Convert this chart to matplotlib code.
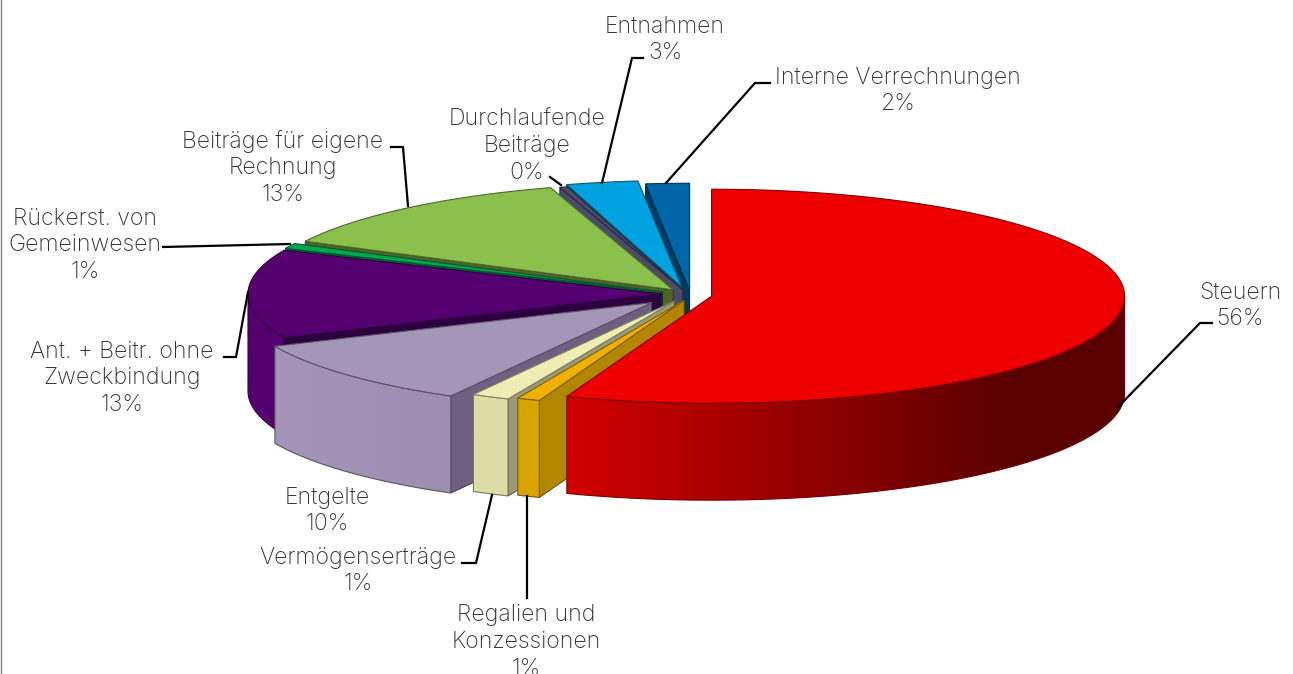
import numpy as np
from matplotlib import pyplot as plt
from matplotlib.colors import to_rgb
from matplotlib.patches import Polygon

# values in percent, clockwise starting at 12 o'clock
categories = ['Steuern', 'Regalien und\nKonzessionen', 'Vermögenserträge', 'Entgelte',
              'Ant. + Beitr. ohne\nZweckbindung', 'Rückerst. von\nGemeinwesen',
              'Beiträge für eigene\nRechnung', 'Durchlaufende\nBeiträge', 'Entnahmen',
              'Interne Verrechnungen']
values = [55.7, 0.9, 1.49, 10.21, 13.4, 0.8, 12.7, 0.3, 2.8, 1.7]

top_cols = ['#EE0000', '#F0B000', '#EEEEB4', '#A496B8', '#550070', '#00A650', '#8BC04C', '#4A4A6A', '#00A2E0', '#0066AA']
face_cols = ['#8A0000', '#B38600', '#9A9A78', '#6E6080', '#2C0040', '#006030', '#4F6228', '#4A4A6A', '#005F85', '#003A60']
wall_left = ['#D20000', '#D9A400', '#DDDDA6', '#A496B8', '#550070', '#00A650', '#8BC04C', '#4A4A6A', '#00A2E0', '#0066AA']
wall_right = ['#5A0000', '#D9A400', '#DDDDA6', '#9E8FB2', '#550070', '#00A650', '#8BC04C', '#4A4A6A', '#00A2E0', '#0066AA']

# label centre and leader line for each slice
label_pos = [(1240, 306), (526, 642), (358, 571), (327, 511), (122, 378), (85, 245), (283, 168), (527, 146), (665, 40), (898, 91)]
leaders = [[(1118, 407), (1200, 323), (1212, 323)],
           [(527, 496), (527, 598)],
           [(492, 495), (476, 563), (462, 563)],
           [],
           [(248, 292), (236, 357), (224, 357)],
           [(290, 244), (163, 247)],
           [(408, 206), (403, 147), (391, 147)],
           [(561, 185), (550, 177)],
           [(602, 183), (632, 58), (643, 58)],
           [(666, 183), (755, 83), (770, 83)]]

cx, cy = 686, 295
rx, ry = 413, 107
depth = 97
explode = 26
# perspective correction per slice, the pie is not a clean projection
nudge_x = [0, 8, 0, -15, 1, 0, 4, 4, 1, 5]
nudge_y = [0, -1, 0, 3, -1, 0, 0, 1, -1, 2]

fig = plt.figure(figsize=(12.93, 6.74), dpi=100)
ax = fig.add_axes([0, 0, 1, 1])
ax.set_xlim(0, 1293)
ax.set_ylim(674, 0)
ax.axis('off')
ax.plot([1, 1], [0, 674], color='#808080', lw=1.0)


def darker(col, f=0.55):
    return tuple(c * f for c in to_rgb(col))


def rim(ax_c, t):
    return np.c_[ax_c[0] + rx * np.sin(t), ax_c[1] - ry * np.cos(t)]


edges = np.cumsum([0] + values) / sum(values) * 2 * np.pi
z = 2
for i in reversed(range(len(values))):
    t0, t1 = edges[i], edges[i + 1]
    mid = (t0 + t1) / 2
    apex = (cx + explode * np.sin(mid) + nudge_x[i], cy - explode * ry / rx * np.cos(mid) + nudge_y[i])
    edge = darker(top_cols[i])

    # cut faces, only the ones turned to the viewer
    for t, front in ((t0, np.sin(t0) < 0), (t1, np.sin(t1) > 1e-6)):
        if not front:
            continue
        p = rim(apex, np.array([t]))[0]
        quad = [apex, p, (p[0], p[1] + depth), (apex[0], apex[1] + depth)]
        ax.add_patch(Polygon(quad, fc=face_cols[i], ec=darker(face_cols[i]), lw=0.7, zorder=z))
        z += 1

    # outer wall, only the front half is visible
    a, b = max(t0, np.pi / 2), min(t1, 3 * np.pi / 2)
    if b > a:
        arc = rim(apex, np.linspace(a, b, 120))
        wall = np.vstack([arc, arc[::-1] + [0, depth]])
        poly = Polygon(wall, fc='none', ec=darker(wall_left[i]), lw=0.8, zorder=z + 1)
        ax.add_patch(poly)
        x0, x1 = wall[:, 0].min(), wall[:, 0].max()
        frac = np.clip(np.linspace(0, 1, 256) * 1.25, 0, 1)[:, None]
        grad = (1 - frac) * np.array(to_rgb(wall_left[i])) + frac * np.array(to_rgb(wall_right[i]))
        im = ax.imshow(grad[None, :, :], extent=(x0, x1, wall[:, 1].max(), wall[:, 1].min()),
                       aspect='auto', zorder=z, interpolation='bilinear')
        im.set_clip_path(Polygon(wall, transform=ax.transData))
        z += 2

    # top of the slice
    arc = rim(apex, np.linspace(t0, t1, 200))
    ax.add_patch(Polygon(np.vstack([[apex], arc]), fc=top_cols[i], ec=edge, lw=0.8, zorder=z))
    z += 1

ax.set_xlim(0, 1293)
ax.set_ylim(674, 0)

for i, name in enumerate(categories):
    if leaders[i]:
        xs, ys = zip(*leaders[i])
        ax.plot(xs, ys, color='black', lw=1.6, zorder=z, solid_joinstyle='miter')
    ax.text(label_pos[i][0], label_pos[i][1], f'{name}\n{round(values[i])}%', ha='center', va='center',
            multialignment='center', family='Inter', fontweight='light', fontsize=16.6,
            linespacing=1.27, color='#333333', zorder=z + 1, clip_on=False)

fig.savefig('out.png', dpi=100)
